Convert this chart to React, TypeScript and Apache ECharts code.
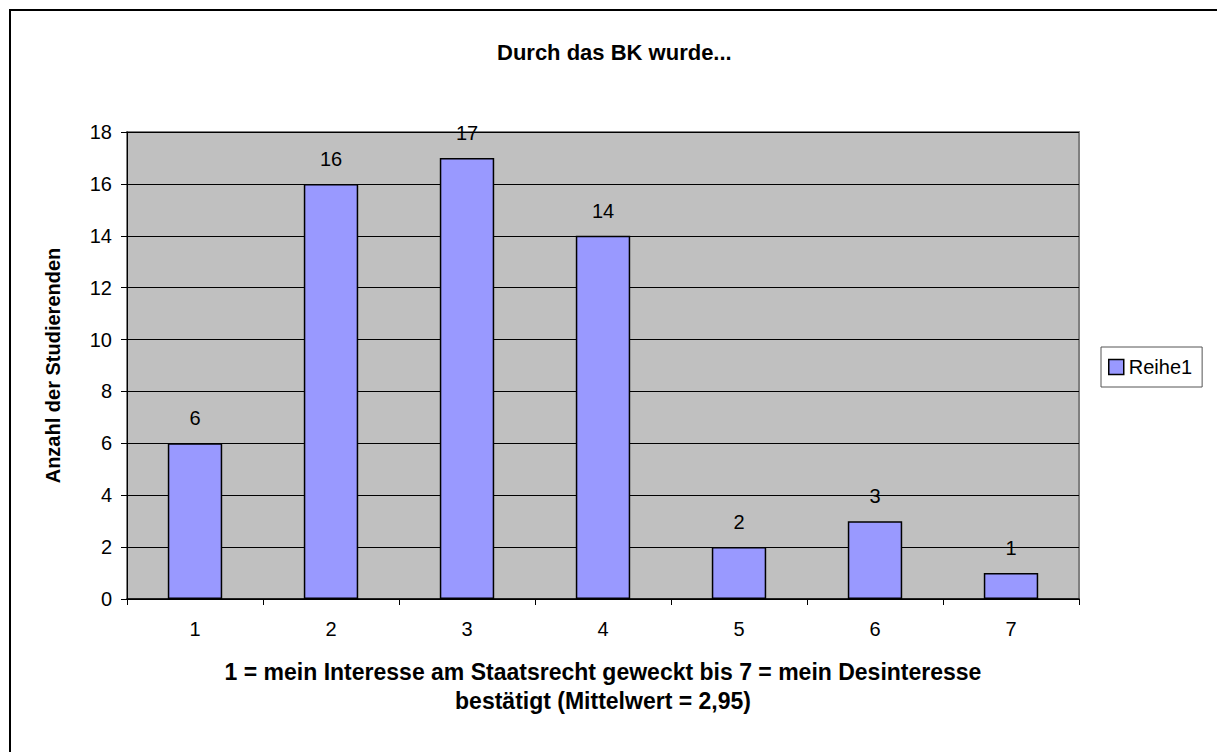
import React, { useEffect, useRef } from "react";
import * as echarts from "echarts";

const categories = ["1", "2", "3", "4", "5", "6", "7"];
const values = [6, 16, 17, 14, 2, 3, 1];
const seriesName = "Reihe1";
const titleText = "Durch das BK wurde...";
const xAxisTitle = "1 = mein Interesse am Staatsrecht geweckt bis 7 = mein Desinteresse\nbestätigt (Mittelwert = 2,95)";
const yAxisTitle = "Anzahl der Studierenden";

const FONT = "'Liberation Sans', Arial, sans-serif";

export default function App() {
  const ref = useRef<HTMLDivElement>(null);
  useEffect(() => {
    document.body.style.margin = "0";
    const chart = echarts.init(ref.current!, undefined, { renderer: "svg" });
    chart.setOption({
      animation: false,
      backgroundColor: "#ffffff",
      textStyle: { fontFamily: FONT, color: "#000" },
      title: {
        text: titleText,
        left: 497,
        top: 41,
        padding: 0,
        textStyle: { fontFamily: FONT, fontSize: 22, fontWeight: "bold", color: "#000" },
      },
      graphic: [
        {
          type: "rect",
          shape: { x: 10, y: 10, width: 1400, height: 1000 },
          style: { fill: "none", stroke: "#000", lineWidth: 2 },
          silent: true,
          z: 100,
        },
      ],
      legend: {
        left: 1101,
        top: 347,
        orient: "vertical",
        padding: [10, 10, 10, 7],
        borderColor: "#555",
        borderWidth: 1,
        backgroundColor: "#fff",
        itemWidth: 15,
        itemHeight: 15,
        icon: "rect",
        itemStyle: { borderColor: "#000", borderWidth: 1.5, color: "#9999FF" },
        textStyle: { fontFamily: FONT, fontSize: 20, color: "#000" },
        data: [seriesName],
      },
      grid: {
        left: 127,
        top: 132,
        width: 952,
        height: 467,
        show: true,
        backgroundColor: "#C0C0C0",
        borderColor: "#808080",
        borderWidth: 2,
      },
      xAxis: {
        type: "category",
        data: categories,
        boundaryGap: true,
        name: xAxisTitle,
        nameLocation: "middle",
        nameGap: 58,
        nameTextStyle: { fontFamily: FONT, fontSize: 23, fontWeight: "bold", color: "#000", lineHeight: 29 },
        axisLine: { show: true, lineStyle: { color: "#000", width: 1.5 } },
        axisTick: { show: true, alignWithLabel: false, length: 6, lineStyle: { color: "#000" } },
        axisLabel: { margin: 20, fontSize: 20, color: "#000", fontFamily: FONT },
        splitLine: { show: false },
      },
      yAxis: {
        type: "value",
        min: 0,
        max: 18,
        interval: 2,
        name: yAxisTitle,
        nameLocation: "middle",
        nameRotate: 90,
        nameGap: 64,
        nameTextStyle: { fontFamily: FONT, fontSize: 20, fontWeight: "bold", color: "#000" },
        axisLine: { show: true, lineStyle: { color: "#000", width: 1 } },
        axisTick: { show: true, length: 6, lineStyle: { color: "#000" } },
        axisLabel: { margin: 15, fontSize: 20, color: "#000", fontFamily: FONT },
        splitLine: { show: true, lineStyle: { color: "#000", width: 1 } },
      },
      series: [
        {
          type: "bar",
          name: seriesName,
          data: values,
          barWidth: "40%",
          itemStyle: { color: "#9999FF", borderColor: "#000", borderWidth: 1.5 },
          label: {
            show: true,
            position: "top",
            distance: 15,
            fontSize: 20,
            color: "#000",
            fontFamily: FONT,
          },
        },
      ],
    });
    return () => chart.dispose();
  }, []);
  return <div ref={ref} style={{ width: 1217, height: 752 }} />;
}
